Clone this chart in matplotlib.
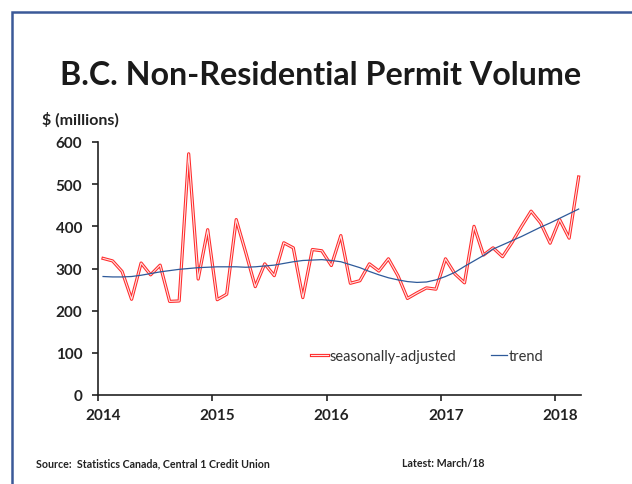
import matplotlib.pyplot as plt
import matplotlib.patheffects as pe
import matplotlib.transforms as mtransforms
from matplotlib.patches import Rectangle
import numpy as np

# monthly, Jan 2014 - Mar 2018 ($ millions)
seasonally_adjusted = [324, 318, 293, 227, 313, 285, 308, 222, 223, 572, 275, 392,
                       226, 239, 416, 338, 257, 311, 283, 361, 349, 231, 345, 342,
                       307, 378, 265, 271, 311, 294, 323, 283, 229, 242, 254, 251,
                       323, 287, 266, 400, 332, 349, 328, 362, 400, 436, 408, 360,
                       416, 372, 517]
trend = [281, 280, 280, 281, 284, 288, 292, 295, 298, 300, 302, 303,
         304, 304, 304, 303, 304, 306, 308, 312, 316, 319, 320, 321,
         319, 316, 309, 302, 293, 285, 278, 273, 269, 267, 268, 273,
         281, 291, 305, 318, 331, 346, 356, 366, 376, 387, 398, 408,
         419, 430, 441]
years = ['2014', '2015', '2016', '2017', '2018']

plt.rcParams['font.family'] = ['Lato', 'DejaVu Sans']

fig = plt.figure(figsize=(6.32, 4.85), dpi=100)
W, H = 632, 485

# blue frame (only top and left edges fall inside the picture)
fig.patches.append(Rectangle((12 / W, -0.1), 1.2, 1 - 13 / H + 0.1,
                             transform=fig.transFigure, fill=False,
                             edgecolor='#3b5998', linewidth=1.8))

ax = fig.add_axes([98.3 / W, 1 - 396 / H, (581.5 - 98.3) / W, (396 - 143) / H])

x = np.arange(len(seasonally_adjusted)) + 0.5
ax.plot(x, seasonally_adjusted, color='#ffe4e4', linewidth=0.8,
        label='seasonally-adjusted',
        path_effects=[pe.Stroke(linewidth=2.3, foreground='#ff2a2a'), pe.Normal()])
ax.plot(x, trend, color='#2e5a9a', linewidth=0.9, label='trend')

ax.set_xlim(0, 50.8)
ax.set_ylim(0, 600)
ax.set_yticks(range(0, 601, 100))
ax.set_xticks([0, 12, 24, 36, 48])
ax.set_xticklabels(years)

for s in ['top', 'right']:
    ax.spines[s].set_visible(False)
for s in ['left', 'bottom']:
    ax.spines[s].set_linewidth(1.2)
    ax.spines[s].set_color('#222222')

ax.tick_params(axis='both', direction='out', length=4.5, width=1.2, color='#222222',
               labelsize=11, labelcolor='#222222')
ax.tick_params(axis='y', pad=7)
ax.tick_params(axis='x', pad=5)
for lbl in ax.get_xticklabels() + ax.get_yticklabels():
    lbl.set_fontweight('bold')
# year labels sit a little right of their ticks
shift = mtransforms.ScaledTranslation(5 / 100, 0, fig.dpi_scale_trans)
for lbl in ax.get_xticklabels():
    lbl.set_transform(lbl.get_transform() + shift)

leg = ax.legend(loc='center left', bbox_to_anchor=(0.414, 0.155), ncol=2,
                frameon=False, handlelength=1.15, handletextpad=0.1,
                columnspacing=2.35, fontsize=10.5)
for t in leg.get_texts():
    t.set_color('#333333')

fig.text(321 / W, 1 - 85 / H, 'B.C. Non-Residential Permit Volume', ha='center',
         va='baseline', fontsize=23.2, fontweight='bold', color='#1a1a1a')
fig.text(42 / W, 1 - 125 / H, '$ (millions)', ha='left', va='baseline',
         fontsize=11.5, fontweight='bold', color='#222222')
fig.text(36 / W, 1 - 464 / H, 'Source:  Statistics Canada, Central 1 Credit Union',
         ha='left', va='center', fontsize=7.7, fontweight='bold', color='#222222')
fig.text(484 / W, 1 - 464 / H, 'Latest: March/18', ha='right', va='center',
         fontsize=7.7, fontweight='bold', color='#222222')

fig.savefig('out.png', dpi=100)
